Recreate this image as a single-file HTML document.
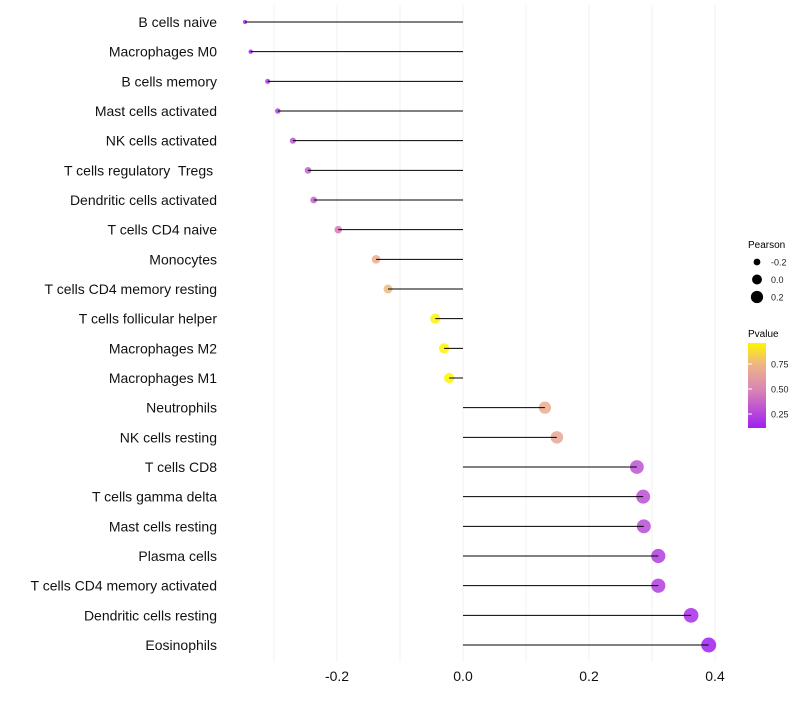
<!DOCTYPE html>
<html><head><meta charset="utf-8"><style>
body{margin:0;background:#fff;font-family:"Liberation Sans",sans-serif;}
svg text{font-family:"Liberation Sans",sans-serif;white-space:pre;}
</style></head><body>
<svg id="chart" width="800" height="700" xmlns="http://www.w3.org/2000/svg">
<g id="grid"></g>
<g id="ylabels"></g>
<g id="xlabels"></g>
<g id="marks"></g>
<g id="legend">
<text x="748" y="248" font-size="10" fill="#000">Pearson</text>
<text x="748" y="337" font-size="10" fill="#000">Pvalue</text>
<defs><linearGradient id="pg" x1="0" y1="1" x2="0" y2="0">
<stop offset="0" stop-color="#A020F0"/><stop offset="0.45" stop-color="#D985B5"/><stop offset="0.75" stop-color="#EFB585"/><stop offset="1" stop-color="#FFF500"/>
</linearGradient></defs>
<rect x="748" y="343" width="18" height="85" fill="url(#pg)"/>
</g>
</svg>
<script>
const categories=["B cells naive","Macrophages M0","B cells memory","Mast cells activated","NK cells activated","T cells regulatory  Tregs ","Dendritic cells activated","T cells CD4 naive","Monocytes","T cells CD4 memory resting","T cells follicular helper","Macrophages M2","Macrophages M1","Neutrophils","NK cells resting","T cells CD8","T cells gamma delta","Mast cells resting","Plasma cells","T cells CD4 memory activated","Dendritic cells resting","Eosinophils"];
const pearson=[-0.346,-0.337,-0.310,-0.294,-0.270,-0.246,-0.237,-0.198,-0.138,-0.119,-0.044,-0.030,-0.022,0.130,0.149,0.276,0.286,0.287,0.310,0.310,0.362,0.390];
const pvalue=[0.10,0.13,0.20,0.25,0.30,0.34,0.37,0.45,0.70,0.76,0.95,0.96,0.97,0.70,0.66,0.30,0.28,0.27,0.22,0.22,0.16,0.10];
const xTicks=[-0.2,0.0,0.2,0.4];
const xTickLabels=["-0.2","0.0","0.2","0.4"];
const sizeLegend=[-0.2,0.0,0.2];
const sizeLegendLabels=["-0.2","0.0","0.2"];
const pTicks=[0.25,0.50,0.75];
const pTickLabels=["0.25","0.50","0.75"];

const NS="http://www.w3.org/2000/svg";
const x=v=>463+v*630;
const y=i=>22+i*(623/21);
const r=v=>Math.sqrt(Math.max(3,28.5+70.7*v));
const pY=p=>343+(0.96-p)/(0.96-0.11)*85;
const stops=[[0.11,[160,32,240]],[0.49,[217,133,181]],[0.75,[239,181,133]],[0.96,[255,245,0]]];
function col(p){
 if(p<=stops[0][0])return `rgb(${stops[0][1]})`;
 for(let k=1;k<stops.length;k++){if(p<=stops[k][0]){const a=stops[k-1],b=stops[k],t=(p-a[0])/(b[0]-a[0]);
  return `rgb(${a[1].map((c,j)=>Math.round(c+(b[1][j]-c)*t)).join(',')})`;}}
 return `rgb(${stops[3][1]})`;
}
function mk(tag,attrs,parent){const e=document.createElementNS(NS,tag);for(const k in attrs)e.setAttribute(k,attrs[k]);document.getElementById(parent).appendChild(e);return e;}
for(let v=-0.3;v<=0.41;v+=0.1){
 const g=mk('line',{x1:x(v),x2:x(v),y1:5,y2:662,stroke:'#f0f0f0','stroke-width':1},'grid');
 
 
}
xTicks.forEach((v,i)=>{
 const t=mk('text',{x:x(v),y:681,'text-anchor':'middle','font-size':14,fill:'#111'},'xlabels');
 t.textContent=xTickLabels[i];
 
 
});
categories.forEach((c,i)=>{
 const t=mk('text',{x:217,y:y(i)+5,'text-anchor':'end','font-size':14,fill:'#111'},'ylabels');
 t.textContent=c;
 
 
 const d=mk('circle',{cx:x(pearson[i]),cy:y(i),r:r(pearson[i]),fill:col(pvalue[i]),'fill-opacity':0.85},'marks');
 
 
 const l=mk('line',{x1:x(0),x2:x(pearson[i]),y1:y(i),y2:y(i),stroke:'#000','stroke-width':1},'marks');
 
 
});
sizeLegend.forEach((v,i)=>{
 const cy=262+i*17.5;
 const d=mk('circle',{cx:757,cy:cy,r:r(v)-0.4,fill:'#000'},'legend');
 
 
 const t=mk('text',{x:771,y:cy+3.5,'font-size':9,fill:'#222'},'legend');
 t.textContent=sizeLegendLabels[i];
 
 
});
pTicks.forEach((p,i)=>{
 const t=mk('text',{x:771,y:pY(p)+3.5,'font-size':9,fill:'#222'},'legend');
 t.textContent=pTickLabels[i];
 
 
 const l=mk('line',{x1:748,x2:752,y1:pY(p),y2:pY(p),stroke:'#fff','stroke-width':1},'legend');
 
 
});
</script>
</body></html>
